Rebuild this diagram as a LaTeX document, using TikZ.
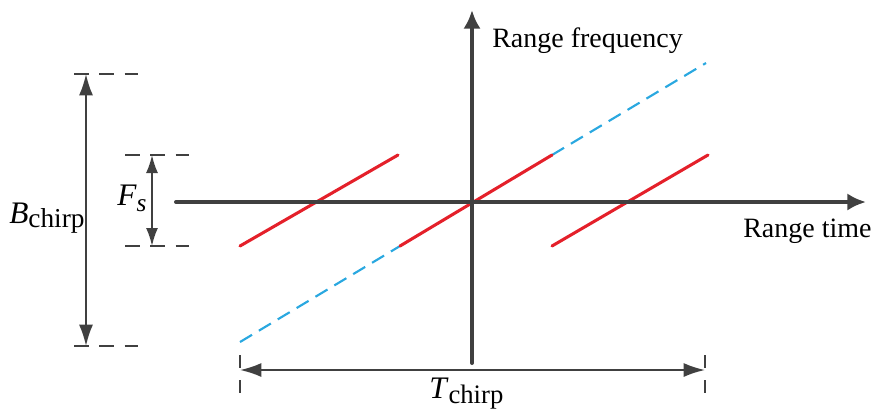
\documentclass[tikz,border=0pt]{standalone}
\usepackage{fontspec}
\setmainfont{Liberation Serif}
\usetikzlibrary{arrows.meta}
\definecolor{axisgray}{HTML}{404040}
\definecolor{chirpred}{HTML}{E4202A}
\definecolor{chirpblue}{HTML}{2AA8E0}
\tikzset{
  axisline/.style={draw=axisgray, line width=3pt, line cap=round, -{Latex[length=14pt,width=13pt]}},
  redline/.style={draw=chirpred, line width=2.3pt, line cap=round},
  blueline/.style={draw=chirpblue, line width=1.6pt, dash pattern=on 10.5pt off 6pt},
  dimarrow/.style={draw=axisgray, line width=1.4pt, {Latex[length=16pt,width=10.5pt]}-{Latex[length=16pt,width=10.5pt]}},
  smallarrow/.style={draw=axisgray, line width=1.4pt, {Latex[length=13.5pt,width=9pt]}-{Latex[length=13.5pt,width=9pt]}},
  guideline/.style={draw=axisgray, line width=1.4pt, dash pattern=on 11pt off 8pt},
  tickline/.style={draw=axisgray, line width=1.4pt, dash pattern=on 10pt off 9pt},
  lbl/.style={font=\fontsize{21}{24}\selectfont, inner sep=0pt, anchor=base west},
  sym/.style={font=\fontsize{23.5}{26}\selectfont, inner sep=0pt, anchor=base west},
}
\newcommand{\subtxt}[3]{\raisebox{-#1}{\fontsize{#2}{20}\selectfont #3}}
\begin{document}
\begin{tikzpicture}[x=0.75pt,y=-0.75pt]
\useasboundingbox (0,0) rectangle (874,412);
% coordinates
\coordinate (xs) at (176,202);
\coordinate (xe) at (866,202);
\coordinate (ys) at (472,363);
\coordinate (ye) at (472,10);
\coordinate (b1) at (240,342);
\coordinate (r1) at (400,246);
\coordinate (r2) at (552,155);
\coordinate (b2) at (706,63);
\coordinate (l1) at (240,246);
\coordinate (l2) at (398,155);
\coordinate (q1) at (552,246);
\coordinate (q2) at (708,155);
% chirp lines
\draw[blueline] (b1) -- (r1);
\draw[blueline] (r2) -- (b2);
\draw[redline] (r1) -- (r2);
\draw[redline] (l1) -- (l2);
\draw[redline] (q1) -- (q2);
% axes
\draw[axisline] (xs) -- (xe);
\draw[axisline] (ys) -- (ye);
\node[lbl] (rf) at (492,47) {Range frequency};
\node[lbl] (rt) at (743,237) {Range time};
% Fs
\coordinate (fa1) at (125,155);
\coordinate (fa2) at (189,155);
\coordinate (fb1) at (125,246);
\coordinate (fb2) at (189,246);
\draw[guideline] (fa1) -- (fa2);
\draw[guideline] (fb1) -- (fb2);
\coordinate (fs1) at (152,155);
\coordinate (fs2) at (152,246);
\draw[smallarrow] (fs1) -- (fs2);
\node[sym] (fs) at (117,205) {\textit{F}\subtxt{5pt}{19}{\textit{s}}};
% Bchirp
\coordinate (ba1) at (74,74);
\coordinate (ba2) at (138,74);
\coordinate (bb1) at (74,346);
\coordinate (bb2) at (138,346);
\draw[guideline] (ba1) -- (ba2);
\draw[guideline] (bb1) -- (bb2);
\coordinate (bc1) at (86,74);
\coordinate (bc2) at (86,346);
\draw[dimarrow] (bc1) -- (bc2);
\node[sym] (bch) at (9,223) {\textit{B}\subtxt{3pt}{20.5}{chirp}};
% Tchirp
\coordinate (ta1) at (240,355);
\coordinate (ta2) at (240,393);
\coordinate (tb1) at (705,355);
\coordinate (tb2) at (705,393);
\draw[tickline] (ta1) -- (ta2);
\draw[tickline] (tb1) -- (tb2);
\coordinate (tc1) at (240,370);
\coordinate (tc2) at (705,370);
\draw[dimarrow] (tc1) -- (tc2);
\node[sym] (tch) at (429,398) {\textit{T}\subtxt{4pt}{20}{chirp}};
\end{tikzpicture}
\end{document}
